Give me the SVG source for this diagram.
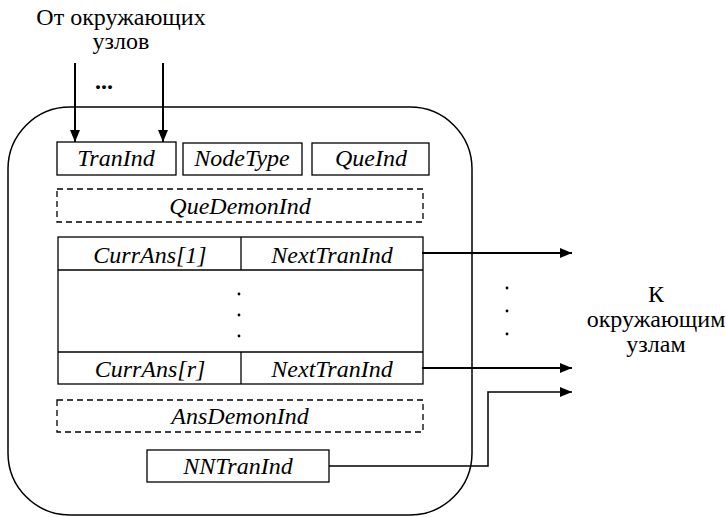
<svg xmlns="http://www.w3.org/2000/svg" width="726" height="517" viewBox="0 0 726 517">
  <defs>
    <marker id="arrow" viewBox="0 0 12 10" refX="12" refY="5" markerWidth="12" markerHeight="10" markerUnits="userSpaceOnUse" orient="auto">
      <path d="M0,0 L12,5 L0,10 Z" fill="#000"/>
    </marker>
  </defs>
  <rect width="726" height="517" fill="#fff"/>

  <!-- outer node container -->
  <g id="node">
    <rect x="8" y="107" width="464" height="408" rx="62" ry="62" fill="none" stroke="#000" stroke-width="1.5"/>
  </g>

  <!-- captions: plain serif, centred -->
  <g id="captions" fill="#000" font-family="Liberation Serif" font-size="24" text-anchor="middle">
    <text x="121" y="25" font-family="Liberation Serif" font-size="24">От окружающих</text>
    <text x="121" y="49" font-family="Liberation Serif" font-size="24">узлов</text>
    <text x="104" y="89" font-family="Liberation Serif" font-size="24" font-weight="bold">...</text>
    <text x="656" y="302" font-family="Liberation Serif" font-size="24">К</text>
    <text x="656" y="327" font-family="Liberation Serif" font-size="24">окружающим</text>
    <text x="656" y="352" font-family="Liberation Serif" font-size="24">узлам</text>
    <circle cx="507" cy="288" r="1.4"/>
    <circle cx="507" cy="311" r="1.4"/>
    <circle cx="507" cy="334" r="1.4"/>
  </g>

  <!-- field labels: italic serif -->
  <g font-family="Liberation Serif" font-size="24" font-style="italic" text-anchor="middle">
    <g id="tranInd">
      <rect x="57" y="142" width="119" height="33" fill="#fff" stroke="#000" stroke-width="1.3"/>
      <text x="116" y="166" font-family="Liberation Serif" font-size="24">TranInd</text>
    </g>
    <g id="nodeType">
      <rect x="183" y="143" width="119" height="32" fill="#fff" stroke="#000" stroke-width="1.3"/>
      <text x="242" y="166" font-family="Liberation Serif" font-size="24">NodeType</text>
    </g>
    <g id="queInd">
      <rect x="312" y="143" width="117" height="32" fill="#fff" stroke="#000" stroke-width="1.3"/>
      <text x="371" y="166" font-family="Liberation Serif" font-size="24">QueInd</text>
    </g>
    <g id="queDemonInd">
      <rect x="57" y="189" width="366" height="33" fill="none" stroke="#000" stroke-width="1.3" stroke-dasharray="6 4"/>
      <text x="240" y="214" font-family="Liberation Serif" font-size="24">QueDemonInd</text>
    </g>

    <g id="answerTable">
      <g stroke="#000" stroke-width="1.3">
        <rect x="58" y="237" width="365" height="147" fill="#fff"/>
        <line x1="58" y1="270" x2="423" y2="270"/>
        <line x1="58" y1="352" x2="423" y2="352"/>
        <line x1="241" y1="237" x2="241" y2="270"/>
        <line x1="241" y1="352" x2="241" y2="384"/>
      </g>
      <text x="150" y="263" font-family="Liberation Serif" font-size="24">CurrAns[1]</text>
      <text x="332" y="263" font-family="Liberation Serif" font-size="24">NextTranInd</text>
      <text x="150" y="377" font-family="Liberation Serif" font-size="24">CurrAns[r]</text>
      <text x="332" y="377" font-family="Liberation Serif" font-size="24">NextTranInd</text>
      <circle cx="239" cy="294" r="1.4"/>
      <circle cx="239" cy="315" r="1.4"/>
      <circle cx="239" cy="336" r="1.4"/>
    </g>

    <g id="ansDemonInd">
      <rect x="57" y="400" width="366" height="32" fill="none" stroke="#000" stroke-width="1.3" stroke-dasharray="6 4"/>
      <text x="240" y="424" font-family="Liberation Serif" font-size="24">AnsDemonInd</text>
    </g>
    <g id="nnTranInd">
      <rect x="147" y="450" width="182" height="32" fill="#fff" stroke="#000" stroke-width="1.3"/>
      <text x="238" y="474" font-family="Liberation Serif" font-size="24">NNTranInd</text>
    </g>
  </g>

  <g id="connectors" fill="none" stroke="#000">
    <line x1="75" y1="63" x2="75" y2="142" stroke-width="2" marker-end="url(#arrow)"/>
    <line x1="163" y1="63" x2="163" y2="142" stroke-width="2" marker-end="url(#arrow)"/>
    <line x1="422" y1="253" x2="572" y2="253" stroke-width="2" marker-end="url(#arrow)"/>
    <line x1="422" y1="368" x2="572" y2="368" stroke-width="2" marker-end="url(#arrow)"/>
    <polyline points="329,466 488,466 488,392 572,392" stroke-width="1.5" marker-end="url(#arrow)"/>
  </g>
</svg>
